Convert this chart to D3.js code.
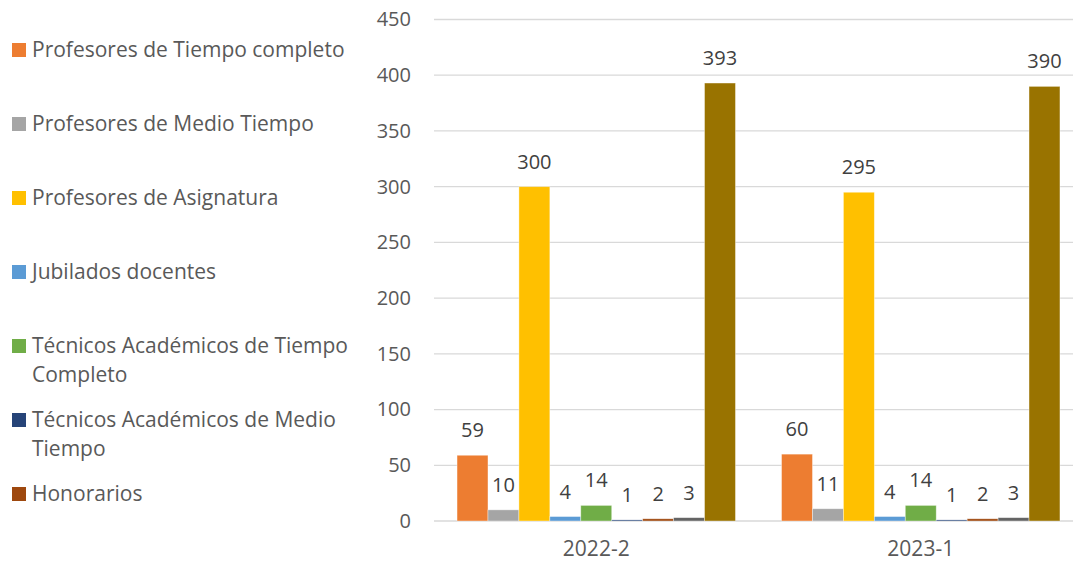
<!DOCTYPE html>
<html>
<head>
<meta charset="utf-8">
<script src="https://cdnjs.cloudflare.com/ajax/libs/d3/7.8.5/d3.min.js"></script>
<style>
	body { margin: 0; background: #fff; }
	svg { display: block; font-family: 'Open Sans', sans-serif; }
</style>
</head>
<body>
<svg id="chartSvg"></svg>
<script>
'use strict';

// periodos
var periodos = ['2022-2', '2023-1']

// tipos de personal (los dos ultimos no salen en la leyenda)
var tipos = [
	'Profesores de Tiempo completo',
	'Profesores de Medio Tiempo',
	'Profesores de Asignatura',
	'Jubilados docentes',
	'Técnicos Académicos de Tiempo Completo',
	'Técnicos Académicos de Medio Tiempo',
	'Honorarios',
	'Otros',
	'Total'
]

var valores2022 = [59, 10, 300, 4, 14, 1, 2, 3, 393]
var valores2023 = [60, 11, 295, 4, 14, 1, 2, 3, 390]

var colores = ['#ED7D31', '#A5A5A5', '#FFC000', '#5B9BD5', '#70AD47', '#264478', '#9E480E', '#636363', '#997300']

var ticks = [0, 50, 100, 150, 200, 250, 300, 350, 400, 450]

var leyendaVisible = 7

var width = 1073,
	height = 563;

var svg = d3.select('#chartSvg').attr('width', width).attr('height', height)

var data = periodos.map(function(p, i) {
	return { periodo: p, valores: i == 0 ? valores2022 : valores2023 }
})

var x0 = d3.scaleBand().domain(periodos).range([434, 1083]).paddingInner(0.142).paddingOuter(0.071)
var x1 = d3.scaleBand().domain(d3.range(tipos.length)).range([0, x0.bandwidth()])
var y = d3.scaleLinear().domain([0, 450]).range([521, 19.5])

// lineas de cuadricula
svg.append('g').selectAll('line').data(ticks).enter().append('line')
	.attr('x1', 434).attr('x2', width)
	.attr('y1', function(d) { return y(d) }).attr('y2', function(d) { return y(d) })
	.attr('stroke', '#D9D9D9').attr('stroke-width', 1.3)

// eje y
var yAxis = svg.append('g').attr('transform', 'translate(411,0)')
	.call(d3.axisLeft(y).tickValues(ticks).tickSize(0).tickPadding(0))
yAxis.select('.domain').remove()
yAxis.selectAll('text').attr('font-size', 20).attr('fill', '#595959').attr('font-family', 'Open Sans')

// eje x
var xAxis = svg.append('g').attr('transform', 'translate(0,' + y(0) + ')')
	.call(d3.axisBottom(x0).tickSize(0).tickPadding(0))
xAxis.select('.domain').remove()
xAxis.selectAll('text').attr('font-size', 21).attr('fill', '#595959').attr('font-family', 'Open Sans')
	.attr('dy', 0).attr('y', 35)

var grupos = svg.append('g').selectAll('g').data(data).enter().append('g')
	.attr('transform', function(d) { return 'translate(' + x0(d.periodo) + ',0)' })

var barras = grupos.selectAll('g').data(function(d) {
	return d.valores.map(function(v, i) { return { i: i, v: v } })
}).enter().append('g')

barras.append('rect')
	.attr('x', function(d) { return x1(d.i) })
	.attr('width', x1.bandwidth())
	.attr('y', function(d) { return y(d.v) })
	.attr('height', function(d) { return y(0) - y(d.v) })
	.attr('fill', function(d) { return colores[d.i] })
	.attr('stroke', '#fff').attr('stroke-opacity', 0.5).attr('stroke-width', 0.75)

barras.append('text')
	.attr('x', function(d) { return x1(d.i) + x1.bandwidth() / 2 })
	.attr('y', function(d) { return y(d.v) - 18 })
	.attr('text-anchor', 'middle')
	.attr('font-size', 20).attr('fill', '#404040')
	.text(function(d) { return d.v })

// leyenda
var leyenda = svg.append('g')
var baseY = 57
for (var i = 0; i < leyendaVisible; i++) {
	var item = leyenda.append('g').attr('transform', 'translate(0,' + (baseY + i * 74) + ')')
	item.append('rect').attr('x', 12).attr('y', -14).attr('width', 14).attr('height', 14).attr('fill', colores[i])
	var txt = item.append('text').attr('x', 32).attr('y', 0).attr('font-size', 21).attr('fill', '#595959')
	wrap(txt, tipos[i], 325)
}

function wrap(textSel, str, maxW) {
	var words = str.split(' ')
	var line = []
	var lineNo = 0
	var tspan = textSel.append('tspan').attr('x', 32).attr('y', 0)
	for (var k = 0; k < words.length; k++) {
		line.push(words[k])
		tspan.text(line.join(' '))
		if (tspan.node().getComputedTextLength() > maxW && line.length > 1) {
			line.pop()
			tspan.text(line.join(' '))
			line = [words[k]]
			lineNo++
			tspan = textSel.append('tspan').attr('x', 32).attr('y', lineNo * 29).text(words[k])
		}
	}
}
</script>
</body>
</html>
